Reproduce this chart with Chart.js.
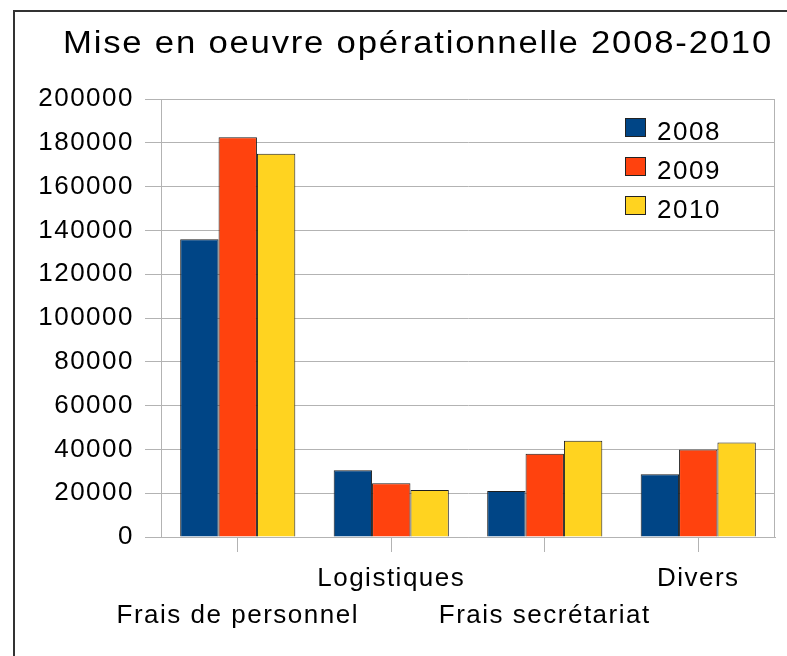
<!DOCTYPE html>
<html>
<head>
<meta charset="utf-8">
<script src="https://cdn.jsdelivr.net/npm/chart.js@4/dist/chart.umd.min.js"></script>
<style>
  body { margin: 0; background: #fff; }
  #wrap { position: relative; width: 787px; height: 656px; }
</style>
</head>
<body>
<div id="wrap"><canvas id="myChart" width="787" height="656"></canvas></div>
<script>
  var categories = ['Frais de personnel', 'Logistiques', 'Frais secrétariat', 'Divers'];
  var years = ['2008', '2009', '2010'];
  var v2008 = [136000, 30500, 21000, 28600];
  var v2009 = [182500, 24500, 38000, 40000];
  var v2010 = [175000, 21500, 44000, 43200];
  var yTicks = [0, 20000, 40000, 60000, 80000, 100000, 120000, 140000, 160000, 180000, 200000];
  var chartTitle = 'Mise en oeuvre opérationnelle 2008-2010';

  var colors = ['#004586', '#ff420e', '#ffd320']; // bleu, orange, jaune
  var FONT = '"Liberation Sans", Arial, sans-serif';
  var grey = '#b3b3b3';

  // espacement des lettres (le rendu d'origine est un peu étiré)
  var spacing = {
    id: 'spacing',
    beforeUpdate: function (chart) { chart.ctx.letterSpacing = '1.5px'; },
    beforeDraw: function (chart) { chart.ctx.letterSpacing = '1.5px'; }
  };

  // cadre, titre, bord droit et légende dans la zone du graphique
  var decor = {
    id: 'decor',
    beforeDraw: function (chart) {
      var ctx = chart.ctx;
      ctx.save();
      ctx.strokeStyle = '#333';
      ctx.lineWidth = 2;
      ctx.strokeRect(14, 11, 900, 900);
      ctx.font = '31px ' + FONT;
      ctx.letterSpacing = '1.6px';
      ctx.fillStyle = '#000';
      ctx.textBaseline = 'alphabetic';
      ctx.textAlign = 'left';
      var w = ctx.measureText(chartTitle).width;
      var sx = 710 / w;
      ctx.translate(63, 53);
      ctx.scale(sx, 1);
      ctx.fillText(chartTitle, 0, 0);
      ctx.restore();
    },
    afterDatasetsDraw: function (chart) {
      var ctx = chart.ctx, a = chart.chartArea;
      ctx.save();
      ctx.strokeStyle = grey;
      ctx.lineWidth = 1;
      ctx.beginPath();
      ctx.moveTo(Math.round(a.right) - 0.5, a.top);
      ctx.lineTo(Math.round(a.right) - 0.5, a.bottom);
      ctx.stroke();

      ctx.font = '26px ' + FONT;
      ctx.letterSpacing = '1.5px';
      ctx.textBaseline = 'alphabetic';
      ctx.textAlign = 'left';
      chart.data.datasets.forEach(function (ds, i) {
        var bx = a.right - 150, by = a.top + 19 + i * 39;
        ctx.fillStyle = ds.backgroundColor;
        ctx.fillRect(bx, by, 21, 19);
        ctx.strokeStyle = '#222';
        ctx.strokeRect(bx + 0.5, by + 0.5, 20, 18);
        ctx.fillStyle = '#000';
        ctx.fillText(ds.label, bx + 32, by + 22);
      });
      ctx.restore();
    }
  };

  var ctx = document.getElementById('myChart').getContext('2d');
  var myChart = new Chart(ctx, {
    type: 'bar',
    data: {
      labels: categories,
      datasets: [
        { label: years[0], data: v2008, backgroundColor: colors[0] },
        { label: years[1], data: v2009, backgroundColor: colors[1] },
        { label: years[2], data: v2010, backgroundColor: colors[2] }
      ]
    },
    options: {
      responsive: false,
      animation: false,
      layout: { padding: { top: 99, right: 12, left: 0, bottom: 0 } },
      datasets: {
        bar: {
          categoryPercentage: 0.75,
          barPercentage: 1,
          borderWidth: 1,
          borderColor: '#1e1e1e'
        }
      },
      plugins: {
        legend: { display: false },
        title: { display: false },
        tooltip: { enabled: false }
      },
      scales: {
        x: {
          grid: { offset: false, drawOnChartArea: false, drawTicks: true, tickLength: 15, color: grey },
          border: { color: grey },
          ticks: {
            color: '#000',
            padding: 8,
            maxRotation: 0,
            autoSkip: false,
            font: { family: FONT, size: 26, lineHeight: 1.42 },
            callback: function (v, i) {
              var name = categories[i];
              return i % 2 === 0 ? ['', name] : [name];
            }
          },
          afterFit: function (scale) { scale.height = 119; }
        },
        y: {
          min: 0,
          max: 200000,
          grid: { color: grey, tickLength: 16 },
          border: { color: grey },
          ticks: {
            color: '#000',
            padding: 11,
            stepSize: 20000,
            font: { family: FONT, size: 26 },
            callback: function (v) { return yTicks.indexOf(v) >= 0 ? String(v) : null; }
          },
          afterFit: function (scale) { scale.width = 161; }
        }
      }
    },
    plugins: [spacing, decor]
  });
</script>
</body>
</html>
